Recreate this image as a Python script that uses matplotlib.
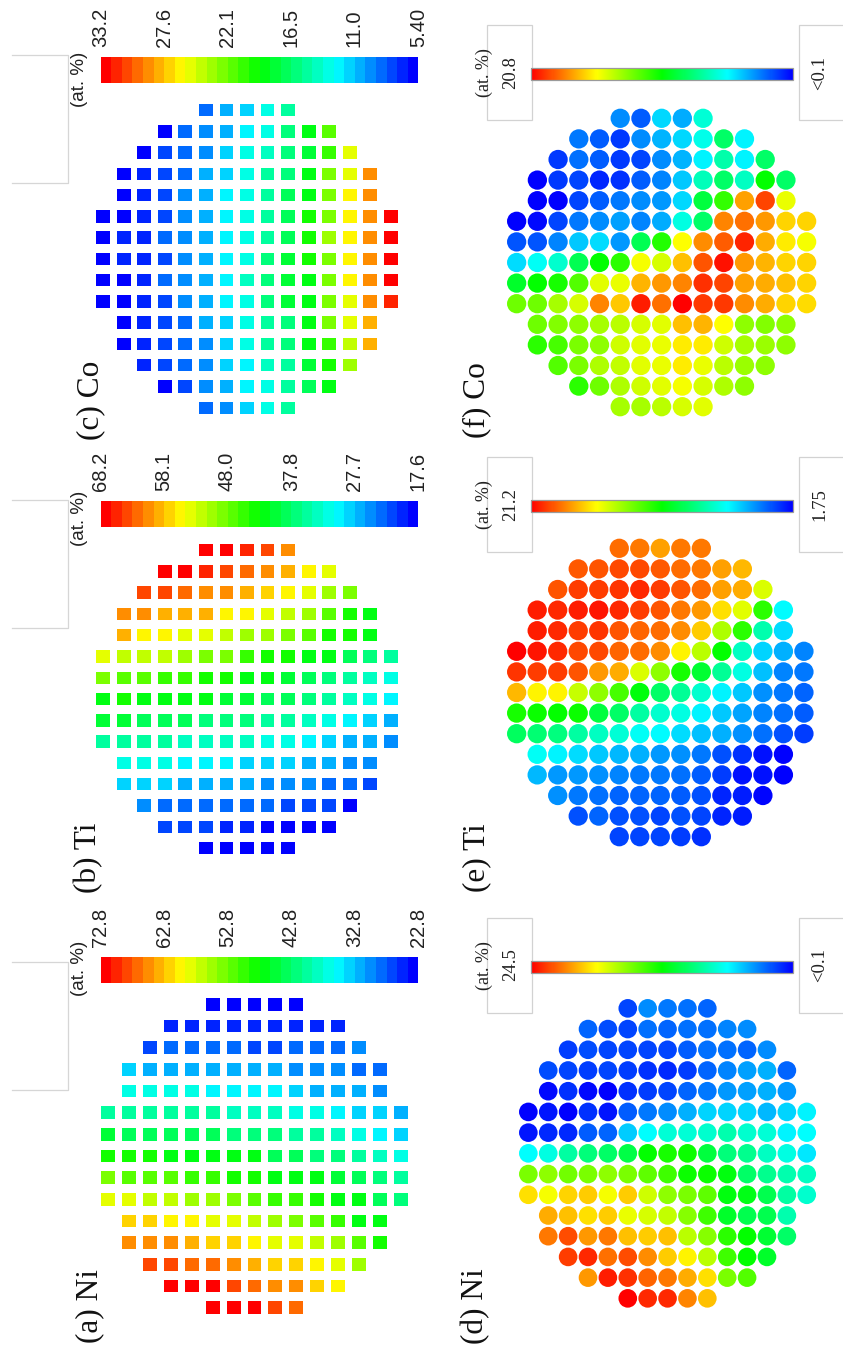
import numpy as np
import matplotlib
matplotlib.use("Agg")
import matplotlib.pyplot as plt
from matplotlib.colors import LinearSegmentedColormap, Normalize
from matplotlib.cm import ScalarMappable
from matplotlib.patches import Rectangle

W, H = 843, 1352

# wafer layout: number of sites in each image row (top to bottom)
ROW_SIZES = [5, 9, 11, 13, 13, 15, 15, 15, 15, 15, 13, 13, 11, 9, 5]

# ---------------- data (at.%) ----------------
# (a) Ni, square map
ni_sq = [
    [22.8, 22.8, 23.3, 22.8, 22.8],
    [24.8, 24.8, 24.8, 24.8, 24.8, 24.8, 25.3, 24.8, 24.8],
    [27.3, 27.8, 27.8, 27.8, 27.8, 27.3, 27.3, 27.8, 27.8, 29.3, 29.8],
    [33.3, 32.8, 31.8, 31.8, 31.8, 31.8, 31.8, 31.3, 29.8, 29.8, 29.8, 27.8, 27.8],
    [36.3, 36.8, 36.8, 36.3, 34.8, 34.8, 35.3, 35.3, 33.3, 32.8, 31.8, 31.3, 29.8],
    [40.3, 40.3, 40.3, 40.3, 40.3, 39.8, 39.3, 38.8, 38.3, 36.8, 36.3, 35.3, 33.3, 33.3, 31.3],
    [44.8, 44.3, 44.3, 44.3, 43.8, 43.3, 42.8, 41.8, 41.8, 40.8, 39.8, 38.3, 36.3, 35.3, 33.3],
    [49.3, 49.3, 48.3, 47.8, 47.8, 47.3, 46.8, 46.3, 44.3, 43.3, 42.3, 41.3, 39.8, 38.3, 36.3],
    [53.3, 52.3, 51.8, 51.8, 50.8, 50.3, 49.3, 48.8, 47.8, 47.3, 46.8, 45.3, 43.8, 41.8, 40.3],
    [58.8, 58.3, 56.8, 56.3, 55.8, 54.8, 54.3, 52.3, 50.8, 49.8, 48.8, 47.8, 46.8, 43.8, 41.8],
    [62.3, 62.3, 60.8, 60.3, 58.8, 58.3, 56.3, 54.8, 54.3, 52.3, 50.8, 47.8, 46.3],
    [65.3, 65.3, 65.3, 63.8, 62.3, 62.3, 60.3, 58.8, 58.3, 56.3, 54.8, 51.3, 48.8],
    [68.8, 68.8, 67.3, 66.8, 65.3, 63.8, 62.3, 61.8, 60.3, 58.3, 54.8],
    [72.8, 71.3, 71.3, 69.3, 67.3, 65.3, 65.3, 62.3, 60.3],
    [72.8, 72.8, 71.3, 69.3, 67.3],
]
# (b) Ti, square map
ti_sq = [
    [68.2, 68.2, 66.2, 64.2, 60.6],
    [68.2, 66.7, 65.7, 63.6, 62.1, 60.6, 59.1, 56.1, 54.0],
    [64.7, 64.2, 62.6, 60.6, 60.1, 58.6, 57.6, 55.0, 54.0, 50.5, 48.0],
    [60.6, 60.6, 59.1, 59.1, 58.1, 56.1, 55.6, 54.0, 52.0, 50.0, 47.5, 44.4, 41.9],
    [58.1, 56.1, 55.6, 54.0, 53.5, 52.0, 50.5, 50.0, 49.0, 47.0, 44.4, 43.9, 41.9],
    [54.0, 52.0, 52.0, 51.5, 50.0, 49.0, 48.5, 45.4, 43.9, 43.4, 42.9, 41.9, 38.8, 37.3, 35.3],
    [49.0, 47.5, 46.4, 45.9, 45.4, 44.4, 43.9, 42.9, 41.9, 40.9, 39.4, 37.8, 35.8, 34.3, 32.3],
    [42.9, 43.4, 42.9, 42.9, 41.9, 41.4, 40.4, 39.9, 39.4, 38.3, 37.3, 35.3, 33.8, 31.8, 29.7],
    [40.4, 40.4, 39.4, 38.8, 38.3, 37.3, 36.8, 36.3, 35.3, 34.8, 33.8, 31.3, 29.7, 28.2, 27.7],
    [35.8, 35.8, 35.8, 35.3, 34.3, 34.3, 33.8, 33.3, 31.8, 31.3, 30.2, 28.2, 27.7, 26.7, 25.2],
    [31.8, 31.8, 31.8, 30.8, 30.2, 30.2, 28.2, 28.2, 28.2, 26.7, 26.2, 25.2, 25.2],
    [28.7, 28.2, 28.2, 26.7, 26.7, 26.7, 26.2, 25.2, 25.2, 24.7, 23.2, 22.7, 21.1],
    [25.2, 23.2, 23.2, 23.2, 23.2, 22.7, 22.7, 21.1, 21.1, 21.1, 19.1],
    [21.1, 21.1, 21.1, 19.6, 19.6, 19.1, 19.1, 19.1, 17.6],
    [18.1, 18.1, 18.1, 18.1, 18.1],
]
# (c) Co, square map
co_sq = [
    [8.7, 10.1, 11.0, 13.2, 14.9],
    [6.2, 8.2, 9.6, 10.4, 12.1, 13.7, 15.7, 18.5, 21.5],
    [6.2, 7.3, 8.2, 9.6, 11.0, 13.2, 14.6, 16.5, 17.9, 20.7, 25.4],
    [5.4, 6.5, 7.3, 8.5, 10.4, 11.2, 13.2, 14.9, 16.5, 19.3, 22.6, 25.4, 29.0],
    [5.4, 6.5, 7.3, 9.3, 10.4, 12.1, 13.2, 14.9, 17.4, 19.3, 22.6, 26.0, 29.0],
    [5.4, 5.7, 6.5, 7.6, 9.6, 10.7, 12.1, 13.7, 15.1, 17.4, 20.1, 22.6, 26.0, 29.0, 33.2],
    [5.4, 6.5, 6.5, 8.5, 9.6, 10.7, 12.4, 13.7, 15.1, 17.4, 20.1, 23.2, 26.3, 29.0, 33.2],
    [5.4, 6.5, 6.8, 7.6, 9.6, 10.7, 12.4, 13.5, 16.0, 17.9, 20.1, 22.9, 26.3, 29.0, 33.2],
    [5.9, 5.9, 6.5, 8.5, 9.6, 10.7, 12.1, 14.0, 16.0, 17.9, 19.3, 22.6, 26.3, 29.0, 33.2],
    [5.4, 5.7, 6.5, 7.6, 9.6, 10.7, 12.1, 13.5, 16.0, 17.9, 19.3, 22.6, 25.4, 29.3, 32.1],
    [5.4, 6.5, 7.3, 8.7, 10.4, 11.2, 13.2, 14.9, 16.5, 19.3, 22.6, 25.4, 27.9],
    [5.4, 6.5, 7.3, 8.5, 9.6, 11.2, 13.2, 14.9, 16.5, 18.5, 20.7, 24.3, 27.9],
    [6.5, 7.3, 8.2, 9.6, 11.2, 12.1, 14.0, 15.4, 17.6, 20.1, 23.5],
    [6.2, 7.3, 9.6, 10.4, 12.1, 13.5, 15.1, 17.4, 19.3],
    [8.5, 9.6, 11.0, 12.9, 14.9],
]
# (d) Ni, circle map
ni_ci = [
    [1.8, 3.5, 3.0, 2.8, 2.5],
    [2.5, 2.0, 1.8, 2.8, 2.5, 2.8, 2.8, 3.3, 3.5],
    [1.6, 2.0, 1.8, 1.8, 1.8, 1.8, 2.3, 2.8, 2.8, 2.5, 3.5],
    [2.0, 1.8, 1.6, 1.8, 1.6, 1.3, 1.1, 1.6, 2.5, 3.3, 4.0, 4.3, 2.5],
    [0.3, 1.3, 0.3, 0.1, 1.3, 1.6, 1.8, 2.5, 3.0, 3.8, 4.0, 4.3, 3.8],
    [0.1, 0.6, 0.1, 1.3, 0.6, 2.3, 3.0, 3.5, 4.3, 5.2, 5.2, 5.2, 4.5, 5.2, 6.0],
    [0.6, 1.1, 1.1, 2.3, 2.5, 5.0, 6.2, 7.2, 7.2, 7.4, 8.2, 7.4, 7.2, 6.0, 6.2],
    [6.2, 6.9, 8.4, 9.4, 9.9, 10.6, 12.3, 12.8, 12.5, 10.8, 9.4, 8.9, 7.7, 6.9, 5.7],
    [15.2, 15.7, 15.0, 15.2, 15.7, 15.2, 14.5, 13.8, 12.5, 12.5, 12.0, 9.9, 8.9, 8.2, 7.7],
    [19.1, 18.2, 19.4, 19.6, 18.2, 19.6, 17.2, 15.7, 15.2, 14.5, 12.0, 11.8, 10.4, 8.4, 7.4],
    [20.4, 19.9, 19.1, 19.6, 17.9, 17.4, 16.9, 15.5, 13.8, 11.3, 10.4, 10.4, 8.2],
    [21.6, 22.6, 20.8, 21.6, 19.9, 19.6, 19.9, 16.7, 15.5, 13.3, 12.3, 11.1, 9.9],
    [23.0, 23.5, 21.8, 22.6, 21.1, 19.6, 18.6, 16.7, 13.8, 12.3, 11.3],
    [20.8, 23.8, 23.3, 22.1, 21.6, 20.4, 19.1, 15.2, 14.3],
    [24.5, 23.5, 23.5, 21.3, 19.9],
]
# (e) Ti, circle map
ti_ci = [
    [19.1, 18.9, 18.1, 18.9, 18.9],
    [19.5, 19.6, 19.8, 19.8, 19.5, 19.1, 18.9, 18.1, 17.7],
    [19.6, 20.0, 20.0, 20.2, 20.4, 20.0, 19.6, 19.1, 18.1, 17.9, 15.6],
    [20.6, 20.4, 20.6, 20.8, 20.4, 20.0, 19.6, 18.9, 18.3, 16.9, 15.8, 12.3, 6.6],
    [20.6, 20.4, 20.0, 20.2, 19.6, 19.3, 19.1, 18.5, 17.3, 14.8, 12.3, 8.2, 6.0],
    [21.2, 20.8, 20.4, 19.8, 19.8, 19.3, 19.1, 18.5, 16.5, 15.0, 11.5, 7.8, 5.8, 5.1, 4.3],
    [20.2, 20.0, 20.0, 19.6, 18.3, 17.9, 15.6, 14.2, 11.9, 10.5, 8.6, 7.2, 5.4, 4.3, 4.1],
    [17.7, 16.5, 16.5, 15.2, 14.2, 12.8, 11.3, 9.5, 8.6, 7.6, 6.4, 5.6, 4.5, 4.1, 3.7],
    [11.9, 11.7, 11.5, 11.7, 10.3, 9.5, 8.4, 7.6, 7.2, 6.4, 5.6, 4.9, 4.3, 3.9, 3.5],
    [9.7, 9.3, 9.1, 8.4, 7.8, 7.4, 6.8, 6.6, 6.0, 5.4, 5.1, 4.5, 3.9, 3.3, 2.9],
    [6.8, 6.4, 6.0, 5.6, 5.3, 5.1, 4.7, 4.5, 4.1, 3.3, 2.7, 2.1, 1.75],
    [5.3, 4.7, 4.7, 4.5, 4.3, 4.1, 4.1, 3.9, 3.5, 2.9, 2.1, 2.1, 1.75],
    [4.5, 4.1, 3.9, 3.7, 3.7, 3.7, 3.5, 3.3, 2.5, 2.3, 1.9],
    [3.3, 3.7, 3.3, 3.3, 3.1, 3.3, 3.1, 2.5, 2.3],
    [3.1, 3.1, 3.1, 2.9, 2.7],
]
# (f) Co, circle map
co_ci = [
    [3.0, 2.0, 4.5, 3.6, 6.1],
    [2.6, 2.0, 1.3, 3.0, 3.8, 4.5, 5.7, 8.4, 5.1],
    [1.3, 2.4, 2.0, 1.3, 1.5, 3.0, 3.8, 5.1, 7.0, 5.1, 8.4],
    [0.1, 1.3, 1.5, 0.9, 1.1, 2.0, 2.8, 4.2, 6.7, 8.4, 6.5, 10.5, 8.4],
    [0.1, 0.1, 1.5, 2.0, 2.6, 3.0, 3.2, 4.5, 9.2, 11.5, 17.5, 19.4, 15.2],
    [0.1, 0.3, 1.5, 2.6, 3.0, 3.4, 2.8, 3.6, 5.9, 8.4, 18.1, 18.5, 17.7, 16.5, 16.5],
    [1.8, 1.8, 2.8, 4.2, 4.6, 3.2, 8.8, 11.1, 15.6, 17.9, 18.9, 20.0, 17.3, 16.0, 15.4],
    [4.6, 5.5, 6.3, 8.8, 10.5, 11.3, 15.4, 14.8, 16.9, 19.1, 20.4, 17.7, 17.1, 16.5, 16.5],
    [9.6, 10.5, 10.9, 12.1, 15.0, 15.2, 17.1, 17.7, 18.1, 19.8, 19.4, 17.5, 17.3, 16.9, 16.5],
    [12.7, 12.7, 13.8, 14.8, 18.1, 16.7, 20.2, 18.5, 20.8, 19.6, 19.6, 17.9, 17.3, 16.5, 16.3],
    [12.7, 13.1, 13.3, 13.8, 14.2, 14.8, 15.0, 16.9, 17.1, 15.6, 13.3, 13.1, 13.3],
    [11.3, 11.9, 12.9, 13.3, 14.6, 15.0, 15.2, 16.0, 16.0, 14.6, 13.8, 13.6, 13.3],
    [12.1, 12.9, 14.0, 14.4, 15.0, 15.2, 16.0, 15.2, 14.2, 13.6, 13.3],
    [11.3, 12.7, 14.0, 14.6, 15.0, 15.4, 14.8, 14.0, 13.3],
    [13.8, 13.8, 14.2, 14.8, 15.0],
]

# colour-bar ranges and labels
ni_sq_ticks = [72.8, 62.8, 52.8, 42.8, 32.8, 22.8]
ni_sq_labels = ["72.8", "62.8", "52.8", "42.8", "32.8", "22.8"]
ti_sq_ticks = [68.2, 58.1, 48.0, 37.8, 27.7, 17.6]
ti_sq_labels = ["68.2", "58.1", "48.0", "37.8", "27.7", "17.6"]
co_sq_ticks = [33.2, 27.6, 22.1, 16.5, 11.0, 5.40]
co_sq_labels = ["33.2", "27.6", "22.1", "16.5", "11.0", "5.40"]
ni_ci_range = (0.1, 24.5)
ti_ci_range = (1.75, 21.2)
co_ci_range = (0.1, 20.8)
ni_ci_labels = ("24.5", "<0.1")
ti_ci_labels = ("21.2", "1.75")
co_ci_labels = ("20.8", "<0.1")
panel_titles = ["(a) Ni", "(b) Ti", "(c) Co", "(d) Ni", "(e) Ti", "(f) Co"]

# ---------------- styling ----------------
plt.rcParams['font.family'] = ['Liberation Sans', 'DejaVu Sans']
SERIF = ['Liberation Serif', 'DejaVu Serif']

base_cmap = LinearSegmentedColormap.from_list(
    "hue", [(0, 0, 1), (0, 1, 1), (0, 1, 0), (1, 1, 0), (1, 0, 0)], N=256)
disc_cmap = base_cmap.resampled(30)


def px_rect(x, y, w, h):
    return [x / W, 1 - (y + h) / H, w / W, h / H]


def site_positions():
    xs, ys = [], []
    for r, n in enumerate(ROW_SIZES):
        off = (15 - n) // 2
        for c in range(n):
            xs.append(off + c)
            ys.append(r)
    return np.array(xs), np.array(ys)


SX, SY = site_positions()

fig = plt.figure(figsize=(W / 100, H / 100), dpi=100)
fig.patch.set_facecolor('white')
bg = fig.add_axes([0, 0, 1, 1])
bg.set_xlim(0, W)
bg.set_ylim(H, 0)
bg.axis('off')

RECT = [(-1, -0.9), (1, -0.9), (1, 0.9), (-1, 0.9), (-1, -0.9)]


def draw_map(rect, rows, cmap, norm, marker, size):
    ax = fig.add_axes(px_rect(*rect))
    ax.set_xlim(-0.5, 14.5)
    ax.set_ylim(14.5, -0.5)
    ax.axis('off')
    vals = np.concatenate([np.asarray(r, float) for r in rows])
    ax.scatter(SX, SY, c=vals, cmap=cmap, norm=norm, marker=marker,
               s=size, linewidths=0)
    return ax


# ---------- square maps (left column) ----------
sq_panels = [
    # rows, ticks, labels, grid rect, bar top, box (top,bottom), title pos, unit-label y
    (co_sq, co_sq_ticks, co_sq_labels, (93.0, 99.4, 308.0, 319.0), 56.7, (55, 183), (91, 400), 79, panel_titles[2]),
    (ti_sq, ti_sq_ticks, ti_sq_labels, (93.0, 539.4, 308.0, 319.3), 501.0, (500, 628), (89, 858), 518, panel_titles[1]),
    (ni_sq, ni_sq_ticks, ni_sq_labels, (97.9, 993.5, 313.3, 325.0), 956.7, (962, 1090), (90, 1306), 968, panel_titles[0]),
]
for rows, ticks, labels, grect, btop, box, tpos, uy, title in sq_panels:
    norm = Normalize(vmin=ticks[-1], vmax=ticks[0])
    draw_map(grect, rows, disc_cmap, norm, RECT, 100)
    cax = fig.add_axes(px_rect(100.7, btop, 317.6, 26))
    cb = fig.colorbar(ScalarMappable(norm=norm, cmap=disc_cmap), cax=cax,
                      orientation='horizontal', ticks=ticks)
    cb.outline.set_visible(False)
    cax.invert_xaxis()
    cax.xaxis.set_ticks_position('top')
    cb.set_ticklabels(labels)
    cax.tick_params(axis='x', length=0, pad=7, labelsize=14.5,
                    labelrotation=90, colors='#222222')
    # faint legend box at the left
    bg.plot([11.7, 68.3, 68.3, 11.7], [box[0], box[0], box[1], box[1]],
            color='#d6d6d6', lw=0.9)
    bg.text(80, uy, "(at. %)", rotation=90, ha='center', va='center',
            fontsize=13.5, color='#222222')
    bg.text(tpos[0], tpos[1], title, rotation=90, ha='center', va='center',
            fontsize=22.5, family=SERIF, color='#111111')

# ---------- circle maps (right column) ----------
ci_panels = [
    (co_ci, co_ci_range, co_ci_labels, (506.3, 108.0, 310.7, 309.0), 74.0, 193, (477, 400), panel_titles[5]),
    (ti_ci, ti_ci_range, ti_ci_labels, (506.4, 538.0, 307.8, 309.0), 506.0, 193, (477, 858), panel_titles[4]),
    (ni_ci, ni_ci_range, ni_ci_labels, (518.4, 998.0, 298.3, 310.7), 966.5, 180, (476, 1306), panel_titles[3]),
]
for rows, rng, labs, grect, bc, msize, tpos, title in ci_panels:
    norm = Normalize(vmin=rng[0], vmax=rng[1])
    draw_map(grect, rows, base_cmap, norm, 'o', msize)
    # end boxes
    bg.add_patch(Rectangle((486.7, bc - 49), 45, 95, facecolor='white',
                           edgecolor='#d2d2d2', lw=0.9))
    bg.add_patch(Rectangle((798.5, bc - 49), 60, 95, facecolor='white',
                           edgecolor='#d2d2d2', lw=0.9))
    cax = fig.add_axes(px_rect(531.0, bc - 6, 262.0, 12))
    cb = fig.colorbar(ScalarMappable(norm=norm, cmap=base_cmap), cax=cax,
                      orientation='horizontal', ticks=[])
    cb.outline.set_edgecolor('#9a9a9a')
    cb.outline.set_linewidth(0.9)
    cax.invert_xaxis()
    bg.text(484, bc - 1, "(at. %)", rotation=90, ha='center', va='center',
            fontsize=13, family=SERIF, color='#222222')
    bg.text(510.5, bc - 1.5, labs[0], rotation=90, ha='center', va='center',
            fontsize=13.5, family=SERIF, color='#222222')
    bg.text(820, bc - 1, labs[1], rotation=90, ha='center', va='center',
            fontsize=13.5, family=SERIF, color='#222222')
    bg.text(tpos[0], tpos[1], title, rotation=90, ha='center', va='center',
            fontsize=22.5, family=SERIF, color='#111111')

fig.savefig("out.png", dpi=100, facecolor='white')
